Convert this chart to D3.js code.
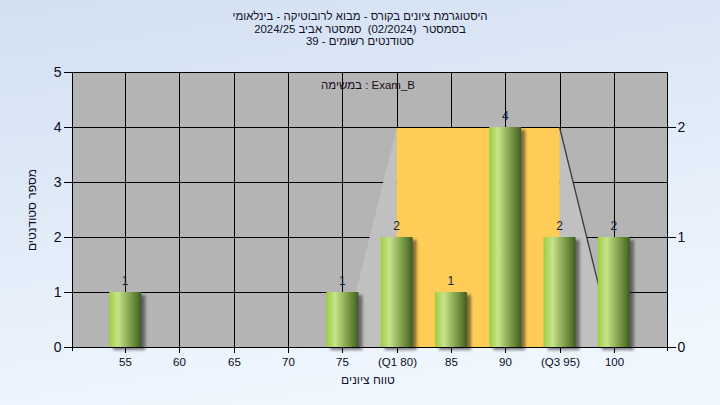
<!DOCTYPE html>
<html><head><meta charset="utf-8">
<script src="https://cdn.jsdelivr.net/npm/d3@7/dist/d3.min.js"></script>
<style>
html,body{margin:0;padding:0;}
svg{display:block;font-family:"Liberation Sans",Arial,sans-serif;}
text{white-space:pre;}
</style></head>
<body><svg id="c" width="720" height="405"></svg>
<script>
// ---- data ----
const categories = ["55","60","65","70","75","(Q1 80)","85","90","(Q3 95)","100"];
const counts     = [1, 0, 0, 0, 1, 2, 1, 4, 2, 2];
const yTicks     = [0,1,2,3,4,5];
const rightTicks = [0,1,2];
const titleLines = ["היסטוגרמת ציונים בקורס - מבוא לרובוטיקה - בינלאומי",
                    "בסמסטר  (02/2024)  סמסטר אביב 2024/25",
                    "סטודנטים רשומים - 39"];
const taskLabel  = "במשימה : Exam_B";
const xTitle = "טווח ציונים";
const yTitle = "מספר סטודנטים";
// box summary: [whisker low, Q1, Q3, whisker high] in category terms, box height in counts
const boxCats = ["75","(Q1 80)","(Q3 95)","100"];
const boxHeight = [4];

const svg = d3.select("#c");
const W=720,H=405;
const L=72,R=667,T=72,B=347;

const defs = svg.append("defs");
const bg = defs.append("linearGradient").attr("id","bg").attr("x1",0).attr("y1",0).attr("x2",0.3).attr("y2",1);
bg.append("stop").attr("offset","0%").attr("stop-color","#d2e0f2");
bg.append("stop").attr("offset","100%").attr("stop-color","#eff6fe");
const bar = defs.append("linearGradient").attr("id","bar").attr("x1",0).attr("y1",0).attr("x2",1).attr("y2",0);
[["0%","#9ccb40"],["8%","#a9d456"],["28%","#c7e38d"],["45%","#a6c46c"],["70%","#779845"],["92%","#506e2c"],["100%","#3e5821"]]
  .forEach(s=>bar.append("stop").attr("offset",s[0]).attr("stop-color",s[1]));
const f = defs.append("filter").attr("id","blur").attr("x","-50%").attr("y","-50%").attr("width","200%").attr("height","200%");
f.append("feGaussianBlur").attr("stdDeviation",1.8);

svg.append("rect").attr("width",W).attr("height",H).attr("fill","url(#bg)");

const x = d3.scalePoint().domain(categories).range([L,R]).padding(0.98);
const y = d3.scaleLinear().domain([0,5]).range([B,T]);
const y2 = d3.scaleLinear().domain([0,2.5]).range([B,T]);
const r = v=>Math.round(v)+0.5;

// plot area
svg.append("rect").attr("x",L).attr("y",T).attr("width",R-L).attr("height",B-T).attr("fill","#b4b4b4");

// grid
const g = svg.append("g").attr("stroke","#000").attr("stroke-width",1).attr("shape-rendering","crispEdges");
yTicks.forEach(t=>g.append("line").attr("x1",L).attr("x2",R).attr("y1",r(y(t))).attr("y2",r(y(t))));
categories.forEach(c=>g.append("line").attr("x1",r(x(c))).attr("x2",r(x(c))).attr("y1",T).attr("y2",B));

// box / whisker polygons
const [wl,q1,q3,wh] = boxCats.map(c=>x(c));
const bt = y(boxHeight[0])+1;
svg.append("path").attr("d",`M${wl},${B}L${q1},${bt}L${q1},${B}Z`).attr("fill","#c0c0c0");
svg.append("path").attr("d",`M${q3},${bt}L${wh},${B}L${q3},${B}Z`).attr("fill","#c0c0c0");
svg.append("rect").attr("x",q1).attr("y",bt).attr("width",q3-q1).attr("height",B-bt).attr("fill","#ffcd57");
svg.append("line").attr("x1",q3).attr("y1",bt-1).attr("x2",wh).attr("y2",B).attr("stroke","#3a3a3a").attr("stroke-width",1.3);

// bars
const bw = 32;
const bars = svg.append("g");
categories.forEach((c,i)=>{
  const v = counts[i]; if(!v) return;
  const bx = x(c)-bw/2, by = y(v), bh = B-y(v);
  bars.append("rect").attr("x",bx+4).attr("y",by+3).attr("width",bw).attr("height",bh)
     .attr("fill","#1a1a1a").attr("opacity",0.55).attr("filter","url(#blur)");
  bars.append("rect").attr("x",bx).attr("y",by).attr("width",bw).attr("height",bh).attr("fill","url(#bar)");
  svg.append("text").attr("x",x(c)).attr("y",by-7).attr("text-anchor","middle")
     .attr("font-size",12).attr("fill","#0c1a3a").text(v);
});

// border/axes
const ax = svg.append("g").attr("stroke","#000").attr("shape-rendering","crispEdges");
ax.append("line").attr("x1",L+0.5).attr("x2",L+0.5).attr("y1",T).attr("y2",B+4);
ax.append("line").attr("x1",R+0.5).attr("x2",R+0.5).attr("y1",T).attr("y2",B+4);
ax.append("line").attr("x1",L).attr("x2",R).attr("y1",T+0.5).attr("y2",T+0.5);
ax.append("line").attr("x1",L).attr("x2",R).attr("y1",B+0.5).attr("y2",B+0.5);

// left axis
const la = svg.append("g").attr("transform",`translate(${L+0.5},0)`)
  .call(d3.axisLeft(y).tickValues(yTicks).tickSize(9).tickPadding(2).tickFormat(d3.format("d")));
la.select(".domain").remove();
la.selectAll("line").attr("stroke","#000").attr("shape-rendering","crispEdges");
la.selectAll("text").attr("font-size",14).attr("fill","#0a0a20").attr("font-family","Liberation Sans, Arial, sans-serif");
// right axis
const ra = svg.append("g").attr("transform",`translate(${R+0.5},0)`)
  .call(d3.axisRight(y2).tickValues(rightTicks).tickSize(8).tickPadding(2).tickFormat(d3.format("d")));
ra.select(".domain").remove();
ra.selectAll("line").attr("stroke","#000").attr("shape-rendering","crispEdges");
ra.selectAll("text").attr("font-size",14).attr("fill","#0a0a20").attr("font-family","Liberation Sans, Arial, sans-serif");
// bottom axis
const ba = svg.append("g").attr("transform",`translate(0,${B+0.5})`)
  .call(d3.axisBottom(x).tickSize(5).tickPadding(5));
ba.select(".domain").remove();
ba.selectAll("line").attr("stroke","#000").attr("shape-rendering","crispEdges");
ba.selectAll(".tick").attr("transform",d=>`translate(${r(x(d))},0)`);
ba.selectAll("text").attr("font-size",11.5).attr("fill","#0a0a20").attr("font-family","Liberation Sans, Arial, sans-serif").attr("direction","ltr");

// titles
titleLines.forEach((t,i)=>svg.append("text").attr("x",360).attr("y",20+i*12.5)
  .attr("text-anchor","middle").attr("direction","rtl").attr("unicode-bidi","embed")
  .attr("font-size",11.4).attr("fill","#101028").text(t));
svg.append("text").attr("x",368).attr("y",89).attr("text-anchor","middle")
  .attr("font-size",11.5).attr("fill","#1a0a1a").text(taskLabel);
svg.append("text").attr("x",368).attr("y",384).attr("text-anchor","middle")
  .attr("font-size",12).attr("fill","#101028").text(xTitle);
svg.append("text").attr("transform","translate(36,210) rotate(-90)").attr("text-anchor","middle")
  .attr("font-size",12).attr("fill","#101028").text(yTitle);
</script></body></html>
